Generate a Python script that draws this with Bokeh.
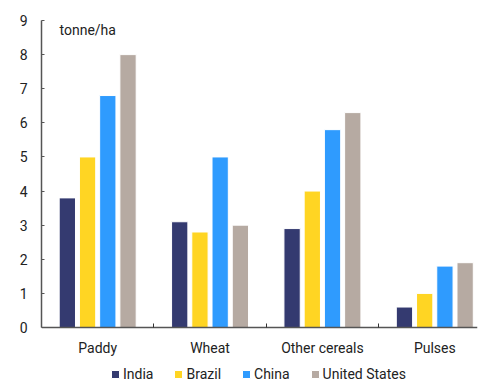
from bokeh.plotting import figure
from bokeh.models import (ColumnDataSource, Range1d, FixedTicker, Legend, LegendItem, Label)
from bokeh.transform import dodge
from bokeh.embed import file_html
from bokeh.resources import INLINE

categories = ["Paddy", "Wheat", "Other cereals", "Pulses"]
india = [3.8, 3.1, 2.9, 0.6]
brazil = [5.0, 2.8, 4.0, 1.0]
china = [6.8, 5.0, 5.8, 1.8]
united_states = [8.0, 3.0, 6.3, 1.9]
series_names = ["India", "Brazil", "China", "United States"]
colors = ["#343a70", "#ffd523", "#2f9bfe", "#b6aaa2"]
y_ticks = [0, 1, 2, 3, 4, 5, 6, 7, 8, 9]

xpos = [i + 0.5 for i in range(len(categories))]
src = ColumnDataSource(dict(x=xpos, India=india, Brazil=brazil, China=china, US=united_states))

FONT = "Roboto"

# frame extends to the bottom of the page; value axis runs from 0 to 9 only
FRAME_H = 362
PX_PER_UNIT = 307 / 9
y_start = -(FRAME_H - 307) / PX_PER_UNIT

p = figure(frame_width=436, frame_height=FRAME_H, output_backend="svg", toolbar_location=None,
           x_range=Range1d(0, 3.88), y_range=Range1d(y_start, 9),
           min_border_left=41, min_border_top=20, min_border_right=1,
           min_border_bottom=0)
p.xgrid.visible = False
p.ygrid.visible = False
p.outline_line_color = None

cols = ["India", "Brazil", "China", "US"]
offsets = [-0.27, -0.09, 0.09, 0.27]
renderers = []
for c, off, col in zip(cols, offsets, colors):
    r = p.vbar(x=dodge("x", off), top=c, bottom=0, width=0.145, source=src,
               fill_color=col, line_color="white", line_width=1)
    renderers.append(r)

# y axis
p.yaxis.ticker = FixedTicker(ticks=y_ticks)
p.yaxis.bounds = (0, 9)
p.yaxis.major_tick_in = 3
p.yaxis.major_tick_out = 0
p.yaxis.minor_tick_line_color = None
p.yaxis.axis_line_color = "#555555"
p.yaxis.axis_line_width = 1.5
p.yaxis.major_tick_line_color = "#555555"
p.yaxis.major_label_standoff = 14
p.yaxis.major_label_text_font = FONT
p.yaxis.major_label_text_font_size = "14px"
p.yaxis.major_label_text_color = "#222222"

# x axis placed at value 0
p.xaxis.fixed_location = 0
p.xaxis.ticker = FixedTicker(ticks=xpos, minor_ticks=[1, 2, 3])
p.xaxis.major_label_overrides = {x: c for x, c in zip(xpos, categories)}
p.xaxis.major_tick_in = 0
p.xaxis.major_tick_out = 0
p.xaxis.minor_tick_in = 4
p.xaxis.minor_tick_out = 0
p.xaxis.minor_tick_line_color = "#333333"
p.xaxis.axis_line_color = "#555555"
p.xaxis.axis_line_width = 1.5
p.xaxis.major_label_standoff = 12
p.xaxis.major_label_text_font = FONT
p.xaxis.major_label_text_font_size = "14px"
p.xaxis.major_label_text_color = "#222222"

p.add_layout(Label(x=18, y=FRAME_H - 9, x_units="screen", y_units="screen", text="tonne/ha",
                   text_font=FONT, text_font_size="14px", text_color="#222222",
                   text_baseline="middle"))

legend = Legend(items=[LegendItem(label=n, renderers=[r]) for n, r in zip(series_names, renderers)],
                orientation="horizontal", location=(69, 0),
                border_line_color=None, background_fill_alpha=0,
                label_text_font=FONT, label_text_font_size="14px", label_text_color="#222222",
                glyph_width=10, glyph_height=10, label_height=14, spacing=20, label_standoff=3,
                padding=0, margin=0)
p.add_layout(legend)

open("out.html", "w").write(file_html(p, INLINE))
